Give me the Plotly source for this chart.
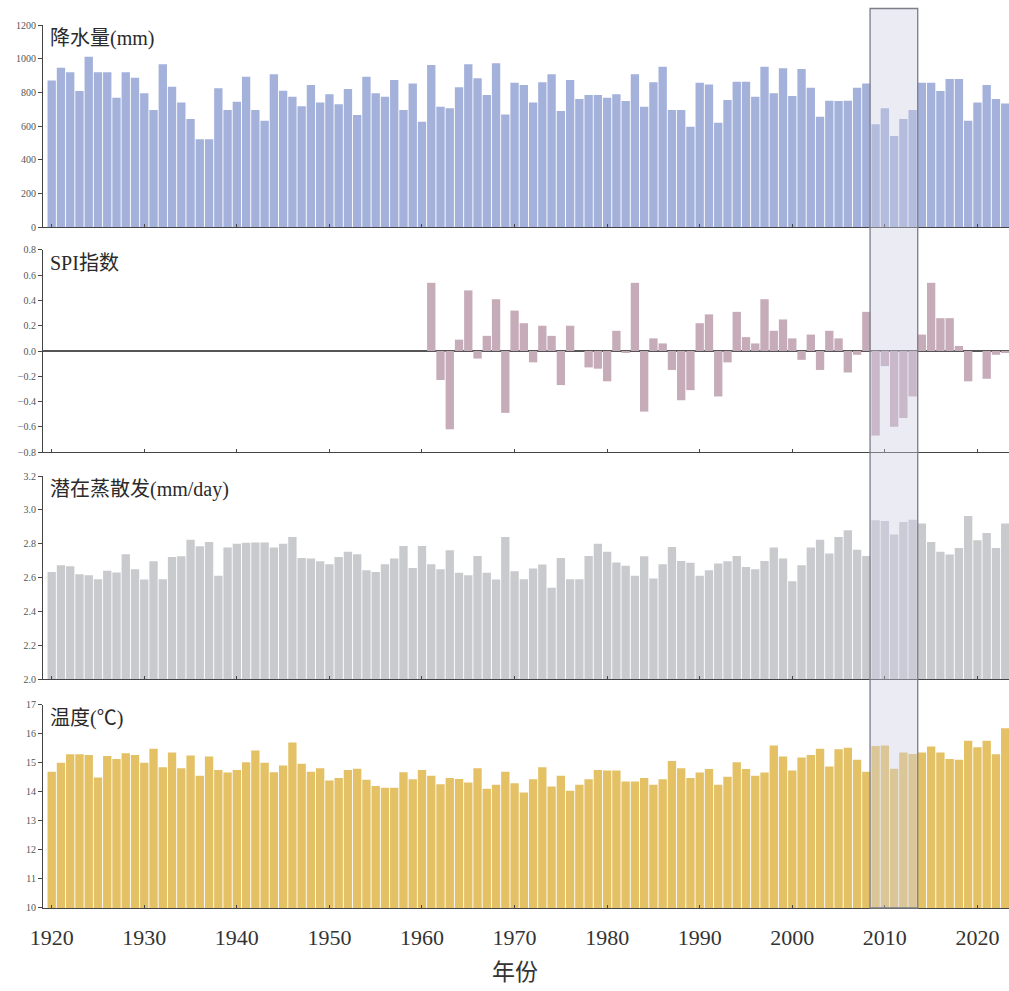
import plotly.graph_objects as go
from plotly.subplots import make_subplots

years = list(range(1920, 2024))

precip = [
    870, 946, 919, 808, 1012, 919, 919, 768, 919, 887,
    794, 695, 967, 833, 740, 641, 522, 522, 824, 695,
    744, 893, 695, 631, 907, 810, 774, 718, 843, 740,
    788, 730, 820, 665, 893, 794, 774, 873, 695, 853,
    625, 962, 714, 705, 830, 967, 883, 784, 973, 669,
    857, 843, 740, 860, 907, 689, 873, 760, 784, 784,
    768, 788, 748, 907, 714, 860, 952, 695, 695, 595,
    857, 847, 619, 754, 863, 863, 774, 952, 794, 943,
    778, 939, 827, 655, 750, 748, 750, 827, 853, 611,
    705, 540, 641, 695, 857, 857, 808, 879, 879, 631,
    740, 843, 760, 734,
]

spi_years = list(range(1961, 2024))
spi = [
    0.54, -0.23, -0.62, 0.09, 0.48, -0.06, 0.12, 0.41, -0.49,
    0.32, 0.22, -0.09, 0.20, 0.12, -0.27, 0.20, 0.00, -0.13, -0.14,
    -0.24, 0.16, -0.01, 0.54, -0.48, 0.10, 0.06, -0.15, -0.39, -0.31,
    0.22, 0.29, -0.36, -0.09, 0.31, 0.11, 0.06, 0.41, 0.16, 0.25,
    0.10, -0.07, 0.13, -0.15, 0.16, 0.10, -0.17, -0.03, 0.31, -0.67,
    -0.12, -0.60, -0.53, -0.36, 0.13, 0.54, 0.26, 0.26, 0.04, -0.24,
    0.00, -0.22, -0.03, -0.01,
]

pet = [
    2.633, 2.673, 2.667, 2.62, 2.614, 2.59, 2.64, 2.63, 2.738, 2.649,
    2.588, 2.696, 2.59, 2.722, 2.726, 2.824, 2.785, 2.81, 2.61, 2.777,
    2.80, 2.805, 2.807, 2.807, 2.777, 2.80, 2.84, 2.716, 2.712, 2.696,
    2.679, 2.722, 2.752, 2.738, 2.643, 2.633, 2.679, 2.712, 2.787, 2.657,
    2.787, 2.679, 2.649, 2.761, 2.628, 2.614, 2.728, 2.628, 2.588, 2.84,
    2.637, 2.59, 2.653, 2.677, 2.539, 2.716, 2.59, 2.59, 2.728, 2.80,
    2.752, 2.689, 2.669, 2.61, 2.726, 2.594, 2.679, 2.781, 2.698, 2.687,
    2.61, 2.643, 2.683, 2.696, 2.728, 2.663, 2.649, 2.698, 2.777, 2.712,
    2.578, 2.673, 2.777, 2.824, 2.742, 2.84, 2.879, 2.765, 2.728, 2.938,
    2.934, 2.854, 2.929, 2.942, 2.919, 2.81, 2.752, 2.736, 2.775, 2.964,
    2.82, 2.864, 2.775, 2.919,
]

temp = [
    14.70, 15.01, 15.30, 15.30, 15.28, 14.50, 15.24, 15.14, 15.34, 15.28,
    15.01, 15.49, 14.85, 15.36, 14.82, 15.26, 14.56, 15.22, 14.76, 14.67,
    14.76, 15.03, 15.43, 15.01, 14.68, 14.91, 15.71, 14.97, 14.70, 14.82,
    14.40, 14.48, 14.76, 14.80, 14.42, 14.21, 14.15, 14.15, 14.68, 14.44,
    14.76, 14.56, 14.27, 14.48, 14.45, 14.33, 14.82, 14.11, 14.25, 14.70,
    14.30, 13.98, 14.44, 14.85, 14.19, 14.56, 14.04, 14.25, 14.44, 14.76,
    14.74, 14.74, 14.36, 14.36, 14.48, 14.25, 14.44, 15.07, 14.82, 14.48,
    14.67, 14.79, 14.25, 14.53, 15.03, 14.79, 14.56, 14.67, 15.60, 15.22,
    14.74, 15.19, 15.28, 15.49, 14.88, 15.47, 15.53, 15.11, 14.70, 15.59,
    15.60, 14.80, 15.36, 15.31, 15.36, 15.57, 15.36, 15.14, 15.11, 15.77,
    15.54, 15.77, 15.30, 16.20,
]

panel_titles = ["降水量(mm)", "SPI指数", "潜在蒸散发(mm/day)", "温度(℃)"]
x_ticks = [1920, 1930, 1940, 1950, 1960, 1970, 1980, 1990, 2000, 2010, 2020]
highlight = [2008.4, 2013.55]

colors = ["#a3b1db", "#c6abb8", "#c9cacd", "#e3c164"]
FONT = "Liberation Serif, Times New Roman, Noto Sans CJK SC, serif"

fig = make_subplots(rows=4, cols=1, shared_xaxes=True, vertical_spacing=0.02)
fig.add_trace(go.Bar(x=years, y=precip, marker_color=colors[0], marker_line_width=0), row=1, col=1)
fig.add_trace(go.Bar(x=spi_years, y=spi, marker_color=colors[1], marker_line_width=0), row=2, col=1)
fig.add_trace(go.Bar(x=years, y=pet, marker_color=colors[2], marker_line_width=0), row=3, col=1)
fig.add_trace(go.Bar(x=years, y=temp, marker_color=colors[3], marker_line_width=0), row=4, col=1)

domains = [[0.7712, 1.0], [0.5164, 0.7452], [0.2593, 0.4892], [0.0, 0.2299]]
yranges = [[0, 1200], [-0.8, 0.8], [2.0, 3.2], [10, 17]]
dticks = [200, 0.2, 0.2, 1]
fmts = ["d", ".1f", ".1f", "d"]

axis_col = "#454545"
for i in range(4):
    n = "" if i == 0 else str(i + 1)
    fig.layout["yaxis" + n].update(
        domain=domains[i], range=yranges[i], dtick=dticks[i], tick0=yranges[i][0],
        tickformat=fmts[i], showline=True, linecolor=axis_col, linewidth=1.2,
        ticks="outside", ticklen=4, tickcolor=axis_col, tickwidth=1,
        tickfont=dict(family=FONT, size=10, color="#555"),
        showgrid=False, zeroline=(i == 1), zerolinecolor="#555", zerolinewidth=1.5,
    )
    fig.layout["xaxis" + n].update(
        range=[1919.06, 2023.41], tickvals=x_ticks, showline=True, linecolor=axis_col,
        linewidth=1.2, ticks="inside", ticklen=3, tickcolor=axis_col,
        showgrid=False, zeroline=False, showticklabels=(i == 3),
        tickfont=dict(family=FONT, size=22, color="#333"),
        ticklabelstandoff=9,
    )
    fig.add_annotation(
        text=panel_titles[i], xref="paper", x=0.005, xanchor="left",
        yref="y" + n + " domain", y=1, yanchor="top", yshift=0,
        showarrow=False, font=dict(family=FONT, size=20, color="#2a2a2a"),
    )

fig.add_annotation(
    text="年份", xref="paper", x=0.4886, xanchor="center",
    yref="paper", y=0, yanchor="top", yshift=-50,
    showarrow=False, font=dict(family=FONT, size=23, color="#333"),
)

fig.add_shape(
    type="rect", xref="x4", yref="paper",
    x0=highlight[0], x1=highlight[1], y0=0.0, y1=1.0187,
    fillcolor="rgba(205,205,228,0.4)", line=dict(color="rgb(125,125,135)", width=1.3),
    layer="above",
)

fig.update_layout(
    width=1009, height=991, showlegend=False, bargap=0.1,
    margin=dict(l=43, r=0, t=25, b=83),
    plot_bgcolor="white", paper_bgcolor="white",
)

fig.write_html(
    "out.html",
    config={"displayModeBar": False},
    post_script="document.body.style.margin='0';document.body.style.overflow='hidden';",
)
